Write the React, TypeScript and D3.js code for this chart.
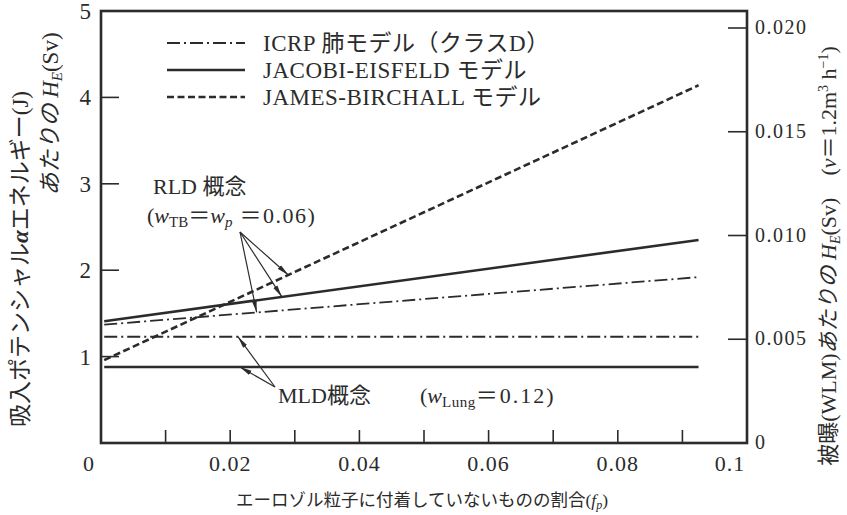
import React from 'react';
import * as d3 from 'd3';

// fp range covered by the model lines
const fpRange = [0.0005, 0.0925];

// RLD concept (w_TB = w_p = 0.06), H_E per J at both ends
const icrpRld = [1.37, 1.92];
const jacobiRld = [1.41, 2.35];
const jamesRld = [0.96, 4.14];

// MLD concept (w_Lung = 0.12), flat
const icrpMld = [1.23, 1.23];
const jacobiMld = [0.88, 0.88];

const legendNames = ['ICRP 肺モデル（クラスD）', 'JACOBI-EISFELD モデル', 'JAMES-BIRCHALL モデル'];

const xTicks = [0.01, 0.02, 0.03, 0.04, 0.05, 0.06, 0.07, 0.08, 0.09];
const xTickLabels = [0, 0.02, 0.04, 0.06, 0.08, 0.1];
const leftTicks = [1, 2, 3, 4, 5];
const rightTicks = [0, 0.005, 0.01, 0.015, 0.02];

// where the annotation arrows hit the lines (fp)
const rldArrowFp = [0.0241, 0.028, 0.029];
const mldArrowFp = [0.0212, 0.0215];

const W = 847;
const H = 515;
const plot = { left: 101, right: 747, top: 11, bottom: 443 };

const FONT = "'Liberation Serif', 'DejaVu Serif', 'Noto Sans CJK JP', serif";
const INK = '#2b2b2b';

const styles = {
  dashdot: { strokeWidth: 1.8, dash: '13,4,2,4' },
  solid: { strokeWidth: 2.6, dash: null },
  dashed: { strokeWidth: 2.6, dash: '7,3.5' },
};

export default function App() {
  const x = d3.scaleLinear().domain([0, 0.1]).range([plot.left, plot.right]);
  const y = d3.scaleLinear().domain([0, 5]).range([plot.bottom, plot.top]);
  const yR = d3.scaleLinear().domain([0, 0.02]).range([plot.bottom, 28]);

  const line = d3.line<[number, number]>().x((d) => x(d[0])).y((d) => y(d[1]));
  const pts = (vals: number[]) => fpRange.map((f, i) => [f, vals[i]] as [number, number]);
  const valAt = (vals: number[], f: number) =>
    d3.scaleLinear().domain(fpRange).range(vals)(f);

  const lines = [
    { vals: icrpRld, st: styles.dashdot },
    { vals: jacobiRld, st: styles.solid },
    { vals: jamesRld, st: styles.dashed },
    { vals: icrpMld, st: styles.dashdot },
    { vals: jacobiMld, st: styles.solid },
  ];

  const rldTargets = [icrpRld, jacobiRld, jamesRld].map((v, i) => [
    x(rldArrowFp[i]),
    y(valAt(v, rldArrowFp[i])),
  ]);
  const mldTargets = [icrpMld, jacobiMld].map((v, i) => [
    x(mldArrowFp[i]),
    y(valAt(v, mldArrowFp[i])),
  ]);
  const rldOrigin = [240, 232];
  const mldOrigin = [275, 387];

  const legendStyles = [styles.dashdot, styles.solid, styles.dashed];

  return (
    <svg
      width={W}
      height={H}
      style={{ position: 'absolute', left: 0, top: 0, background: '#fff', fontFamily: FONT }}
      fill={INK}
    >
      <defs>
        <marker id="arr" viewBox="0 0 12 6" refX="12" refY="3" markerWidth="12" markerHeight="6"
          markerUnits="userSpaceOnUse" orient="auto">
          <path d="M0,0.6 L12,3 L0,5.4 z" fill={INK} />
        </marker>
      </defs>

      {/* frame */}
      <rect x={plot.left} y={plot.top} width={plot.right - plot.left} height={plot.bottom - plot.top}
        fill="none" stroke={INK} strokeWidth={2.6} />

      {/* x ticks (inward) */}
      {xTicks.map((t) => (
        <line key={t} x1={x(t)} x2={x(t)} y1={plot.bottom} y2={plot.bottom - 13} stroke={INK} strokeWidth={1.6} />
      ))}
      {xTickLabels.map((t, i) => {
        const dx = i === 0 ? -12 : i === xTickLabels.length - 1 ? -17 : 0;
        return (
          <text key={t} x={x(t) + dx} y={471} fontSize={22} letterSpacing={1} textAnchor="middle">
            {t === 0 ? '0' : String(t)}
          </text>
        );
      })}

      {/* left axis */}
      {leftTicks.map((t) => (
        <g key={t}>
          {t < 5 && <line x1={plot.left} x2={plot.left + 18} y1={y(t)} y2={y(t)} stroke={INK} strokeWidth={1.6} />}
          <text x={91} y={y(t) + 8} fontSize={23} textAnchor="end">{t}</text>
        </g>
      ))}

      {/* right axis */}
      {rightTicks.map((t) => (
        <g key={t}>
          {t > 0 && <line x1={plot.right - 19} x2={plot.right} y1={yR(t)} y2={yR(t)} stroke={INK} strokeWidth={1.6} />}
          <text x={755} y={yR(t) + 6} fontSize={20} letterSpacing={1.5}>
            {t === 0 ? '0' : d3.format('.3f')(t)}
          </text>
        </g>
      ))}

      {/* model lines */}
      {lines.map((l, i) => (
        <path key={i} d={line(pts(l.vals)) || ''} fill="none" stroke={INK}
          strokeWidth={l.st.strokeWidth} strokeDasharray={l.st.dash || undefined} />
      ))}

      {/* legend */}
      {legendNames.map((n, i) => (
        <g key={n} transform={`translate(167, ${43 + i * 27})`}>
          <line x1={0} x2={78} y1={0} y2={0} stroke={INK} strokeWidth={legendStyles[i].strokeWidth}
            strokeDasharray={legendStyles[i].dash || undefined} />
          <text x={96} y={8} fontSize={23} letterSpacing={0.5}>{n}</text>
        </g>
      ))}

      {/* RLD annotation */}
      <text x={153} y={194} fontSize={22}>RLD 概念</text>
      <text x={147} y={223} fontSize={22}>
        (<tspan fontStyle="italic">w</tspan>
        <tspan fontSize={15} dy={4}>TB</tspan>
        <tspan dy={-4}>＝</tspan>
        <tspan fontStyle="italic">w</tspan>
        <tspan fontSize={15} fontStyle="italic" dy={4}>p</tspan>
        <tspan dy={-4} letterSpacing={1.5}> ＝0.06)</tspan>
      </text>
      {rldTargets.map((p, i) => (
        <line key={i} x1={rldOrigin[0]} y1={rldOrigin[1]} x2={p[0]} y2={p[1]} stroke={INK}
          strokeWidth={1.2} markerEnd="url(#arr)" />
      ))}

      {/* MLD annotation */}
      <text x={278} y={403} fontSize={22}>MLD概念</text>
      <text x={420} y={403} fontSize={22}>
        (<tspan fontStyle="italic">w</tspan>
        <tspan fontSize={15} dy={4} letterSpacing={0.5}>Lung</tspan>
        <tspan dy={-4} letterSpacing={2}>＝0.12)</tspan>
      </text>
      {mldTargets.map((p, i) => (
        <line key={i} x1={mldOrigin[0]} y1={mldOrigin[1]} x2={p[0]} y2={p[1]} stroke={INK}
          strokeWidth={1.2} markerEnd="url(#arr)" />
      ))}

      {/* axis titles */}
      <text transform="translate(28, 259) rotate(-90)" fontSize={23} textAnchor="middle">
        吸入ポテンシャル<tspan fontStyle="italic" fontWeight="bold">α</tspan>エネルギー(J)
      </text>
      <text transform="translate(58, 114) rotate(-90)" fontSize={23} textAnchor="middle">
        <tspan fontStyle="italic">あたりの </tspan>
        <tspan fontStyle="italic">H</tspan>
        <tspan fontSize={15} fontStyle="italic" dy={4}>E</tspan>
        <tspan dy={-4}>(Sv)</tspan>
      </text>
      <text transform="translate(836, 256) rotate(-90)" fontSize={22} textAnchor="middle">
        被曝(WLM)<tspan fontStyle="italic">あたりの </tspan>
        <tspan fontStyle="italic">H</tspan>
        <tspan fontSize={14} fontStyle="italic" dy={4}>E</tspan>
        <tspan dy={-4}>(Sv)　(</tspan>
        <tspan fontStyle="italic">v</tspan>
        <tspan>＝1.2m</tspan>
        <tspan fontSize={14} dy={-8}>3</tspan>
        <tspan dy={8}> h</tspan>
        <tspan fontSize={14} dy={-8}>−1</tspan>
        <tspan dy={8}>)</tspan>
      </text>
      <text x={422} y={506} fontSize={17.5} textAnchor="middle">
        エーロゾル粒子に付着していないものの割合(<tspan fontStyle="italic">f</tspan>
        <tspan fontSize={12} fontStyle="italic" dy={3}>p</tspan>
        <tspan dy={-3}>)</tspan>
      </text>
    </svg>
  );
}
